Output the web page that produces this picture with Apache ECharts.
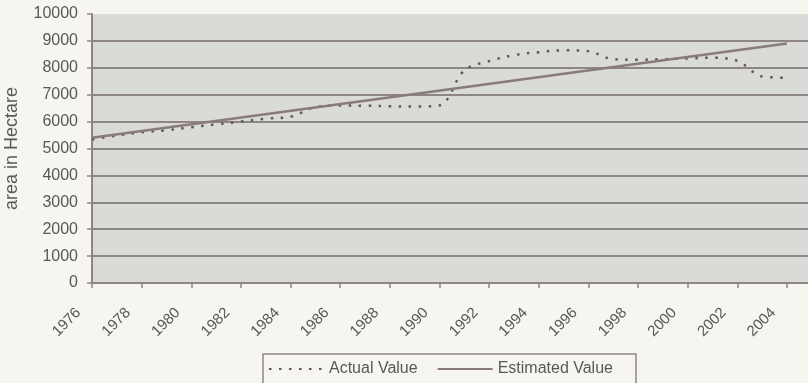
<!DOCTYPE html>
<html>
<head>
<meta charset="utf-8">
<script src="https://cdn.jsdelivr.net/npm/echarts@6/dist/echarts.min.js"></script>
<style>
  html, body { margin: 0; padding: 0; background: #f6f5ef; }
  #chart { width: 808px; height: 383px; }
</style>
</head>
<body>
<div id="chart"></div>
<script>
// Yearly cultivated area (hectare), observed values
const years = [1976, 1977, 1978, 1979, 1980, 1981, 1982, 1983, 1984, 1985,
               1986, 1987, 1988, 1989, 1990, 1991, 1992, 1993, 1994, 1995,
               1996, 1997, 1998, 1999, 2000, 2001, 2002, 2003, 2004];
const actualValues = [5335, 5485, 5600, 5680, 5790, 5900, 6000, 6110, 6180, 6540,
                      6600, 6590, 6570, 6560, 6600, 7900, 8250, 8470, 8580, 8650,
                      8620, 8320, 8300, 8320, 8345, 8375, 8260, 7680, 7630];

// Trend line end points
const estimatedYears = [1976, 2004];
const estimatedValues = [5400, 8900];

// Axis tick labels
const tickYears = [1976, 1978, 1980, 1982, 1984, 1986, 1988, 1990,
                   1992, 1994, 1996, 1998, 2000, 2002, 2004];

const FONT = "'Liberation Sans', Arial, sans-serif";
const TEXT = '#585858';
const GRID_LINE = '#8e8686';
const plain = v => String(v);

const chart = echarts.init(document.getElementById('chart'), null, { renderer: 'canvas' });

chart.setOption({
  backgroundColor: '#f6f5ef',
  animation: false,
  textStyle: { fontFamily: FONT },
  grid: {
    left: 92, right: 0, top: 14, bottom: 100,
    outerBoundsMode: 'none',
    containLabel: false,
    show: true, backgroundColor: '#dadad6', borderWidth: 0
  },
  xAxis: {
    type: 'value',
    min: 1976,
    max: 2004.85,
    axisLine: { show: true, lineStyle: { color: GRID_LINE, width: 2 } },
    axisTick: { show: true, customValues: tickYears, length: 5, lineStyle: { color: GRID_LINE, width: 1.5 } },
    axisLabel: {
      customValues: tickYears,
      formatter: plain,
      rotate: 45,
      fontSize: 15,
      color: TEXT,
      fontFamily: FONT,
      margin: 14,
      padding: [0, 19, 0, 0]
    },
    splitLine: { show: false }
  },
  yAxis: {
    type: 'value',
    min: 0,
    max: 10000,
    interval: 1000,
    name: 'area in Hectare',
    nameLocation: 'middle',
    nameGap: 71,
    nameRotate: 90,
    nameTextStyle: { fontSize: 18, color: TEXT, fontFamily: FONT },
    axisLine: { show: true, lineStyle: { color: GRID_LINE, width: 2 } },
    axisTick: { show: true, length: 5, lineStyle: { color: GRID_LINE, width: 1.5 } },
    axisLabel: { formatter: plain, fontSize: 16, color: TEXT, fontFamily: FONT, margin: 14 },
    splitLine: { show: true, showMaxLine: false, lineStyle: { color: GRID_LINE, width: 2 } }
  },
  legend: {
    left: 263,
    top: 354,
    itemWidth: 55,
    itemHeight: 10,
    itemGap: 19,
    padding: [7, 23, 15, 5],
    borderColor: '#8e8888',
    borderWidth: 1.5,
    backgroundColor: '#f6f5ef',
    textStyle: { fontSize: 16, color: TEXT, fontFamily: FONT },
    data: ['Actual Value', 'Estimated Value']
  },
  series: [
    {
      name: 'Actual Value',
      type: 'line',
      data: years.map((y, i) => [y, actualValues[i]]),
      smooth: 0.35,
      symbol: 'none',
      itemStyle: { color: 'rgba(0,0,0,0)' },
      lineStyle: { color: '#5e5858', width: 2.5, type: [2.5, 7.5] }
    },
    {
      name: 'Estimated Value',
      type: 'line',
      data: estimatedYears.map((y, i) => [y, estimatedValues[i]]),
      symbol: 'none',
      itemStyle: { color: 'rgba(0,0,0,0)' },
      lineStyle: { color: '#8a7b7b', width: 2.5 }
    }
  ]
});
</script>
</body>
</html>
